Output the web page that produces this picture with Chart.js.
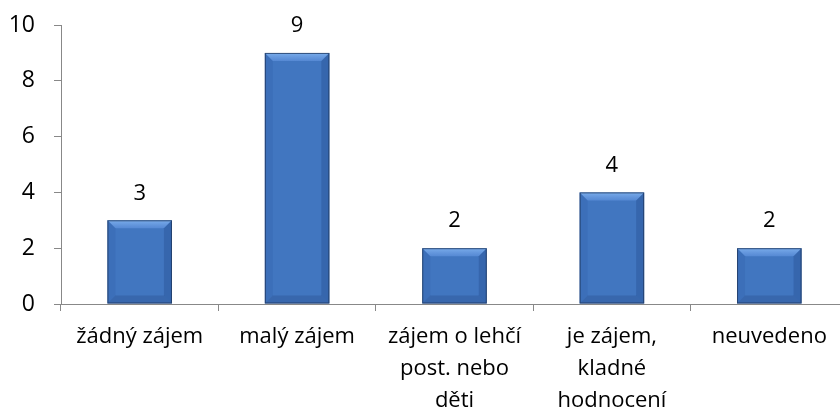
<!DOCTYPE html>
<html>
<head>
<meta charset="utf-8">
<script src="https://cdn.jsdelivr.net/npm/chart.js@4.4.0/dist/chart.umd.min.js"></script>
<style>
  html, body { margin: 0; padding: 0; background: #fff; overflow: hidden; }
  #wrap { width: 860px; height: 412px; }
</style>
</head>
<body>
<div id="wrap"><canvas id="barChart" width="860" height="412"></canvas></div>
<script>
// data
const categories = [
    'žádný zájem',
    'malý zájem',
    ['zájem o lehčí', 'post. nebo', 'děti'],
    ['je zájem,', 'kladné', 'hodnocení'],
    'neuvedeno'
];
const counts = [3, 9, 2, 4, 2];
const yTicks = [0, 2, 4, 6, 8, 10];

const FONT = '"Open Sans", sans-serif';

// soft bevel look on each bar + value label above it
const bevelPlugin = {
    id: 'bevel',
    afterDatasetsDraw(chart) {
        const ctx = chart.ctx;
        const meta = chart.getDatasetMeta(0);
        meta.data.forEach((bar, i) => {
            const w = bar.width;
            const l = bar.x - w / 2, r = bar.x + w / 2;
            const t = bar.y, b = bar.base;
            const bv = Math.min(8, (b - t) / 3);
            ctx.save();
            // top bevel
            let g = ctx.createLinearGradient(0, t, 0, t + bv);
            g.addColorStop(0, 'rgba(130,180,240,0.9)');
            g.addColorStop(1, 'rgba(100,150,225,0.6)');
            ctx.fillStyle = g;
            ctx.beginPath();
            ctx.moveTo(l, t); ctx.lineTo(r, t);
            ctx.lineTo(r - bv, t + bv); ctx.lineTo(l + bv, t + bv);
            ctx.closePath(); ctx.fill();
            // left bevel
            ctx.fillStyle = 'rgba(50,95,170,0.3)';
            ctx.beginPath();
            ctx.moveTo(l, t); ctx.lineTo(l + bv, t + bv);
            ctx.lineTo(l + bv, b - bv); ctx.lineTo(l, b);
            ctx.closePath(); ctx.fill();
            // right bevel
            ctx.fillStyle = 'rgba(30,65,130,0.3)';
            ctx.beginPath();
            ctx.moveTo(r, t); ctx.lineTo(r - bv, t + bv);
            ctx.lineTo(r - bv, b - bv); ctx.lineTo(r, b);
            ctx.closePath(); ctx.fill();
            // bottom bevel
            ctx.fillStyle = 'rgba(30,60,115,0.25)';
            ctx.beginPath();
            ctx.moveTo(l, b); ctx.lineTo(r, b);
            ctx.lineTo(r - bv, b - bv); ctx.lineTo(l + bv, b - bv);
            ctx.closePath(); ctx.fill();
            // outline
            ctx.strokeStyle = 'rgba(30,55,95,0.8)';
            ctx.lineWidth = 1;
            ctx.strokeRect(l + 0.5, t + 0.5, w - 1, b - t - 1);
            // value label
            ctx.fillStyle = '#000';
            ctx.font = '22px ' + FONT;
            ctx.textAlign = 'center';
            ctx.textBaseline = 'middle';
            ctx.fillText(String(counts[i]), bar.x, t - 27);
            ctx.restore();
        });
    }
};

const chart = new Chart(document.getElementById('barChart'), {
    type: 'bar',
    data: {
        labels: categories,
        datasets: [{
            data: counts,
            backgroundColor: '#4176c0',
            borderWidth: 0,
            barPercentage: 0.41,
            categoryPercentage: 1
        }]
    },
    options: {
        responsive: false,
        animation: false,
        layout: { padding: { top: 25, right: 12, left: 0, bottom: 0 } },
        plugins: { legend: { display: false }, tooltip: { enabled: false } },
        scales: {
            x: {
                offset: true,
                grid: { offset: true, drawOnChartArea: false, drawTicks: true, tickLength: 7, color: '#888' },
                border: { color: '#888', width: 1 },
                ticks: {
                    color: '#000',
                    font: { family: FONT, size: 22, lineHeight: 1.4545 },
                    padding: 10,
                    maxRotation: 0,
                    autoSkip: false
                },
                afterFit(scale) { scale.height = 108; }
            },
            y: {
                min: 0, max: 10,
                afterBuildTicks(scale) { scale.ticks = yTicks.map(v => ({ value: v })); },
                grid: { drawOnChartArea: false, drawTicks: true, tickLength: 7, color: '#888' },
                border: { color: '#888', width: 1 },
                ticks: {
                    color: '#000',
                    font: { family: FONT, size: 23, lineHeight: 0.5 },
                    padding: 19
                },
                afterFit(scale) { scale.width = 61; scale.paddingTop = 0; scale.paddingBottom = 0; }
            }
        }
    },
    plugins: [bevelPlugin]
});
</script>
</body>
</html>
